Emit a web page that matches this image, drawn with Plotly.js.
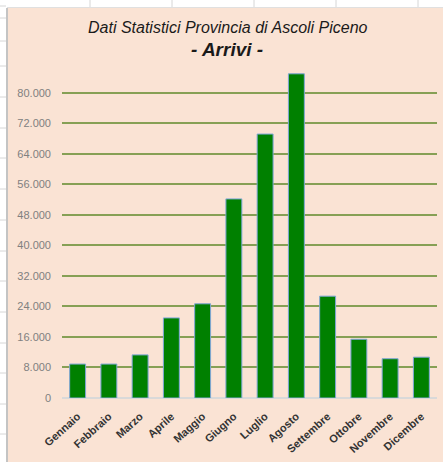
<!DOCTYPE html>
<html>
<head>
<meta charset="utf-8">
<script src="https://cdn.plot.ly/plotly-3.0.1.min.js"></script>
<style>
  html, body { margin: 0; padding: 0; background: #ffffff; }
  #chart { width: 443px; height: 462px; }
</style>
</head>
<body>
<div id="chart"></div>
<script>
// ---- data ----
const months = ["Gennaio", "Febbraio", "Marzo", "Aprile", "Maggio", "Giugno",
                "Luglio", "Agosto", "Settembre", "Ottobre", "Novembre", "Dicembre"];
const arrivi = [8900, 8900, 11300, 21000, 24700, 52200, 69200, 85000, 26700, 15400, 10300, 10700];
const yTickVals = [0, 8000, 16000, 24000, 32000, 40000, 48000, 56000, 64000, 72000, 80000];
const titleLine1 = "Dati Statistici Provincia di Ascoli Piceno";
const titleLine2 = "- Arrivi -";

// ---- layout geometry ----
const W = 443, H = 462;
const M = { l: 62, r: 6, t: 70, b: 64 };
const plotW = W - M.l - M.r, plotH = H - M.t - M.b;
const px = p => (p - M.l) / plotW;          // pixel x -> paper x
const py = q => (H - M.b - q) / plotH;      // pixel y -> paper y

const shapes = [];
// chart area (peach) on top of spreadsheet
shapes.push({ type: "rect", xref: "paper", yref: "paper", layer: "below",
  x0: px(8), x1: px(W + 5), y0: py(H + 5), y1: py(8),
  fillcolor: "#FAE3D4", line: { width: 0 } });
// spreadsheet grid lines (top strip)
[90, 172, 254, 336, 418].forEach(x => shapes.push({ type: "line", xref: "paper", yref: "paper", layer: "below",
  x0: px(x), x1: px(x), y0: py(0), y1: py(7), line: { color: "#D6D6D6", width: 1 } }));
// spreadsheet grid lines (left strip)
[6, 18, 41, 66, 97, 128, 158, 189, 220, 251, 281, 312, 343, 373, 404, 434].forEach(y => shapes.push({
  type: "line", xref: "paper", yref: "paper", layer: "below",
  x0: px(0), x1: px(6), y0: py(y), y1: py(y), line: { color: "#D6D6D6", width: 1 } }));
// chart border
shapes.push({ type: "line", xref: "paper", yref: "paper", layer: "below",
  x0: px(7), x1: px(7), y0: py(8), y1: py(H + 2), line: { color: "#C4C4C4", width: 2 } });
shapes.push({ type: "line", xref: "paper", yref: "paper", layer: "below",
  x0: px(7), x1: px(W + 2), y0: py(7.5), y1: py(7.5), line: { color: "#E0E0E0", width: 1 } });

const trace = {
  type: "bar",
  x: months,
  y: arrivi,
  marker: { color: "#008000", line: { color: "#7FA6D6", width: 1 } },
  hoverinfo: "x+y"
};

const layout = {
  width: W, height: H,
  margin: M,
  paper_bgcolor: "#ffffff",
  plot_bgcolor: "rgba(0,0,0,0)",
  separators: ",.",
  showlegend: false,
  bargap: 0.49,
  font: { family: "Liberation Sans, Arial, sans-serif" },
  xaxis: {
    type: "category",
    tickangle: -42,
    ticks: "",
    showgrid: false,
    showline: false,
    zeroline: false,
    tickfont: { size: 11, color: "#333333", family: "Liberation Sans, Arial, sans-serif", weight: "bold" },
    ticklabelstandoff: 9
  },
  yaxis: {
    range: [0, 86000],
    tickvals: yTickVals,
    tickformat: ",d",
    ticks: "",
    showline: false,
    gridcolor: "#86A055",
    gridwidth: 2,
    zeroline: true,
    zerolinecolor: "#D9D9D9",
    zerolinewidth: 2,
    tickfont: { size: 11, color: "#808080" },
    ticklabelstandoff: 10
  },
  shapes: shapes,
  annotations: [
    { text: "<i>" + titleLine1 + "</i>", xref: "paper", yref: "paper",
      x: px(227.5), y: py(27), xanchor: "center", yanchor: "middle", showarrow: false,
      font: { size: 16, color: "#1A1A1A" } },
    { text: "<b><i>" + titleLine2 + "</i></b>", xref: "paper", yref: "paper",
      x: px(227), y: py(50), xanchor: "center", yanchor: "middle", showarrow: false,
      font: { size: 19, color: "#1A1A1A" } }
  ]
};

Plotly.newPlot("chart", [trace], layout, { displayModeBar: false, staticPlot: true });
</script>
</body>
</html>
